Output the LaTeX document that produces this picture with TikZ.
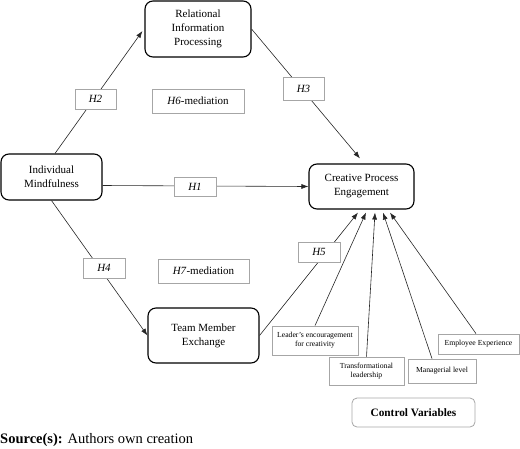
\documentclass[tikz,border=0pt]{standalone}
\usepackage{fontspec}
\setmainfont{Liberation Serif}
\usetikzlibrary{arrows.meta,calc}
\begin{document}
\begin{tikzpicture}[x=1pt,y=-1pt,
  mainbox/.style={draw=black,line width=1.1pt,rounded corners=8pt,fill=white,align=center,inner sep=2pt,
    font=\fontsize{11}{14}\selectfont},
  hbox/.style={draw=black!35,line width=0.8pt,fill=white,inner sep=1pt,
    font=\fontsize{11}{13}\selectfont\itshape},
  cvbox/.style={draw=black!35,line width=0.8pt,fill=white,inner sep=1pt,align=center,
    font=\fontsize{7.7}{9}\selectfont},
  conn/.style={draw=black!85,line width=0.6pt,-{Latex[length=7pt,width=5pt]}}
]
\useasboundingbox (0,0) rectangle (520,448);

% main nodes
\node[mainbox,minimum width=106pt,minimum height=56pt] (rip) at (198,29) {Relational\\Information\\Processing};
\node[mainbox,minimum width=101pt,minimum height=46pt] (im) at (51.5,177) {Individual\\Mindfulness};
\node[mainbox,minimum width=105pt,minimum height=45pt] (cpe) at (361.5,186.5) {Creative Process\\Engagement};
\node[mainbox,minimum width=111pt,minimum height=55pt] (tme) at (203.5,335.5) {Team Member\\Exchange};

% control variables
\node[cvbox,minimum width=86pt,minimum height=29pt] (lec) at (315,340.5) {Leader’s encouragement\\for creativity};
\node[cvbox,minimum width=75pt,minimum height=28pt] (tl) at (366.5,371) {Transformational\\leadership};
\node[cvbox,minimum width=68pt,minimum height=24pt] (ml) at (442,371) {Managerial level};
\node[cvbox,minimum width=81pt,minimum height=20pt] (ee) at (478.5,344) {Employee Experience};
\node[draw=black!35,line width=0.8pt,rounded corners=5pt,minimum width=123pt,minimum height=29pt,
  font=\fontsize{11.3}{13}\selectfont\bfseries] (cv) at (413.5,412.5) {Control Variables};

% target points on CPE
\coordinate (c1) at ($(cpe.south)+(-3.5,3)$);
\coordinate (c2) at ($(cpe.south)+(4.5,3)$);
\coordinate (c3) at ($(cpe.south)+(13.5,3)$);
\coordinate (c4) at ($(cpe.south)+(21.5,3)$);
\coordinate (c5) at ($(cpe.south)+(28.5,3)$);
\coordinate (rip in) at ($(rip.west)+(-2,2)$);
\coordinate (cpe in) at ($(cpe.north)+(-1.5,-5)$);
\coordinate (ml out) at ($(ml.north)+(-10,0)$);
\coordinate (ee out) at ($(ee.north)+(-2.5,0)$);
\coordinate (im top) at ($(im.north)+(3.5,0)$);
\coordinate (im right) at ($(im.east)+(0,8.5)$);
\coordinate (cpe left) at (cpe.west);

% connectors
\draw[conn] (im top) -- (rip in);
\draw[conn] (rip.east) -- (cpe in);
\draw[conn] (im right) -- (cpe left);
\draw[conn] (im.south) -- (tme.west);
\draw[conn] (tme.east) -- (c1);
\draw[conn] (lec.north) -- (c2);
\draw[conn] (tl.north) -- (c3);
\draw[conn] (ml out) -- (c4);
\draw[conn] (ee out) -- (c5);

% hypothesis labels
\node[hbox,minimum width=41pt,minimum height=20pt] (h2) at (95.5,99) {H2};
\node[hbox,minimum width=92pt,minimum height=24pt,font=\fontsize{11}{13}\selectfont] (h6) at (198,101) {\textit{H6}-mediation};
\node[hbox,minimum width=42pt,minimum height=19pt] (h1) at (195,186.5) {H1};
\node[hbox,minimum width=41pt,minimum height=23pt] (h3) at (303.5,88.5) {H3};
\node[hbox,minimum width=42pt,minimum height=20pt] (h4) at (104,268) {H4};
\node[hbox,minimum width=91pt,minimum height=24pt,font=\fontsize{11}{13}\selectfont] (h7) at (203.5,271) {\textit{H7}-mediation};
\node[hbox,minimum width=42pt,minimum height=20pt] (h5) at (319,252) {H5};

% source
\node[anchor=base west,inner sep=0pt,font=\fontsize{14.5}{16}\selectfont] (src) at (0,443) {\textbf{Source(s):} Authors own creation};
\end{tikzpicture}
\end{document}
